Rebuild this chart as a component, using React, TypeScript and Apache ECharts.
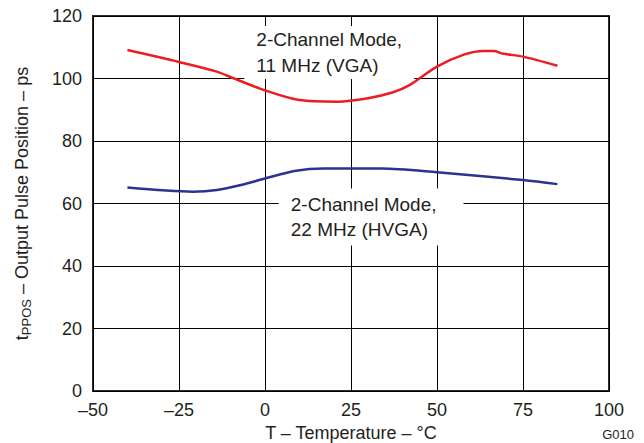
import React, { useEffect, useRef } from "react";
import * as echarts from "echarts";

const xTicks = [-50, -25, 0, 25, 50, 75, 100];
const yTicks = [0, 20, 40, 60, 80, 100, 120];

const redTemp = [-40, -25, -14, -9, 0, 10, 21, 30, 37, 42, 50, 58, 63.5, 66.5, 69, 75, 85];
const redVal = [109.1, 105.3, 102.2, 100, 96.2, 93.1, 92.6, 93.7, 95.5, 97.9, 103.8, 107.7, 108.8, 108.8, 108.0, 107.0, 104.1];

const blueTemp = [-40, -21, -14, -7, 0, 9, 17, 34, 50, 75, 85];
const blueVal = [65.1, 63.8, 64.3, 65.9, 68.0, 70.5, 71.2, 71.2, 70.0, 67.5, 66.2];

const label1Text = "2-Channel Mode,\n11 MHz (VGA)";
const label1Pos = [-6.0, 108.3];
const label2Text = "2-Channel Mode,\n22 MHz (HVGA)";
const label2Pos = [4.0, 55.7];

const FONT = "'Liberation Sans', Arial, Helvetica, sans-serif";
const TXT = "#231f20";

const fmt = (v: number) => (v < 0 ? "\u2013" + Math.abs(v) : String(v));

export default function App() {
  const ref = useRef<HTMLDivElement>(null);
  useEffect(() => {
    if (!ref.current) return;
    const chart = echarts.init(ref.current, undefined, { renderer: "svg" });
    const zip = (a: number[], b: number[]) => a.map((x, i) => [x, b[i]]);
    const annot = (text: string, pos: number[], padding: number[]) => ({
      type: "scatter",
      data: [pos],
      symbolSize: 1,
      itemStyle: { color: "rgba(0,0,0,0)" },
      silent: true,
      z: 5,
      labelLayout: { hideOverlap: false },
      label: {
        show: true,
        position: "inside",
        formatter: text,
        align: "left",
        verticalAlign: "middle",
        fontFamily: FONT,
        fontSize: 19,
        lineHeight: 25.5,
        color: TXT,
        opacity: 1,
        textBorderWidth: 0,
        textBorderColor: "transparent",
        backgroundColor: "#ffffff",
        padding,
      },
    });
    chart.setOption({
      animation: false,
      backgroundColor: "#ffffff",
      textStyle: { fontFamily: FONT },
      grid: {
        left: 93,
        right: 35,
        top: 16,
        bottom: 52,
        outerBoundsMode: "none",
        containLabel: false,
        show: true,
        borderColor: "#2b2b2b",
        borderWidth: 2,
        backgroundColor: "transparent",
      },
      xAxis: {
        type: "value",
        min: xTicks[0],
        max: xTicks[xTicks.length - 1],
        interval: 25,
        name: "T \u2013 Temperature \u2013 \u00b0C",
        nameLocation: "middle",
        nameGap: 33,
        nameTextStyle: { fontFamily: FONT, fontSize: 18, color: TXT },
        axisLine: { show: false },
        axisTick: { show: false },
        axisLabel: { fontFamily: FONT, fontSize: 18, color: TXT, margin: 10, formatter: fmt },
        splitLine: { show: true, lineStyle: { color: "#000000", width: 1 } },
      },
      yAxis: {
        type: "value",
        min: yTicks[0],
        max: yTicks[yTicks.length - 1],
        interval: 20,
        name: "{t|t}{s|PPOS}{n| \u2013 Output Pulse Position \u2013 ps}",
        nameLocation: "middle",
        nameGap: 60,
        nameRotate: 90,
        nameTextStyle: {
          fontFamily: FONT,
          fontSize: 18,
          color: TXT,
          rich: {
            t: { fontFamily: FONT, fontSize: 18, color: TXT, lineHeight: 22, verticalAlign: "middle" },
            s: { fontFamily: FONT, fontSize: 13, color: TXT, lineHeight: 22, verticalAlign: "bottom" },
            n: { fontFamily: FONT, fontSize: 18, color: TXT, lineHeight: 22, verticalAlign: "middle" },
          },
        },
        axisLine: { show: false },
        axisTick: { show: false },
        axisLabel: { fontFamily: FONT, fontSize: 18, color: TXT, margin: 11, formatter: fmt },
        splitLine: { show: true, lineStyle: { color: "#000000", width: 1 } },
      },
      graphic: [
        {
          type: "text",
          right: 10,
          top: 428,
          style: { text: "G010", fontFamily: FONT, fontSize: 13, fill: TXT },
        },
      ],
      series: [
        {
          type: "line",
          data: zip(redTemp, redVal),
          smooth: 0.3,
          showSymbol: false,
          lineStyle: { color: "#ed1c24", width: 2.5 },
          z: 3,
        },
        {
          type: "line",
          data: zip(blueTemp, blueVal),
          smooth: 0.3,
          showSymbol: false,
          lineStyle: { color: "#2e3192", width: 2.5 },
          z: 3,
        },
        annot(label1Text, label1Pos, [1, 12, 1, 12]),
        annot(label2Text, label2Pos, [3, 27, 3, 12]),
      ],
    });
    return () => chart.dispose();
  }, []);
  return (
    <div
      ref={ref}
      style={{ position: "fixed", left: 0, top: 0, width: 644, height: 443, background: "#fff" }}
    />
  );
}
